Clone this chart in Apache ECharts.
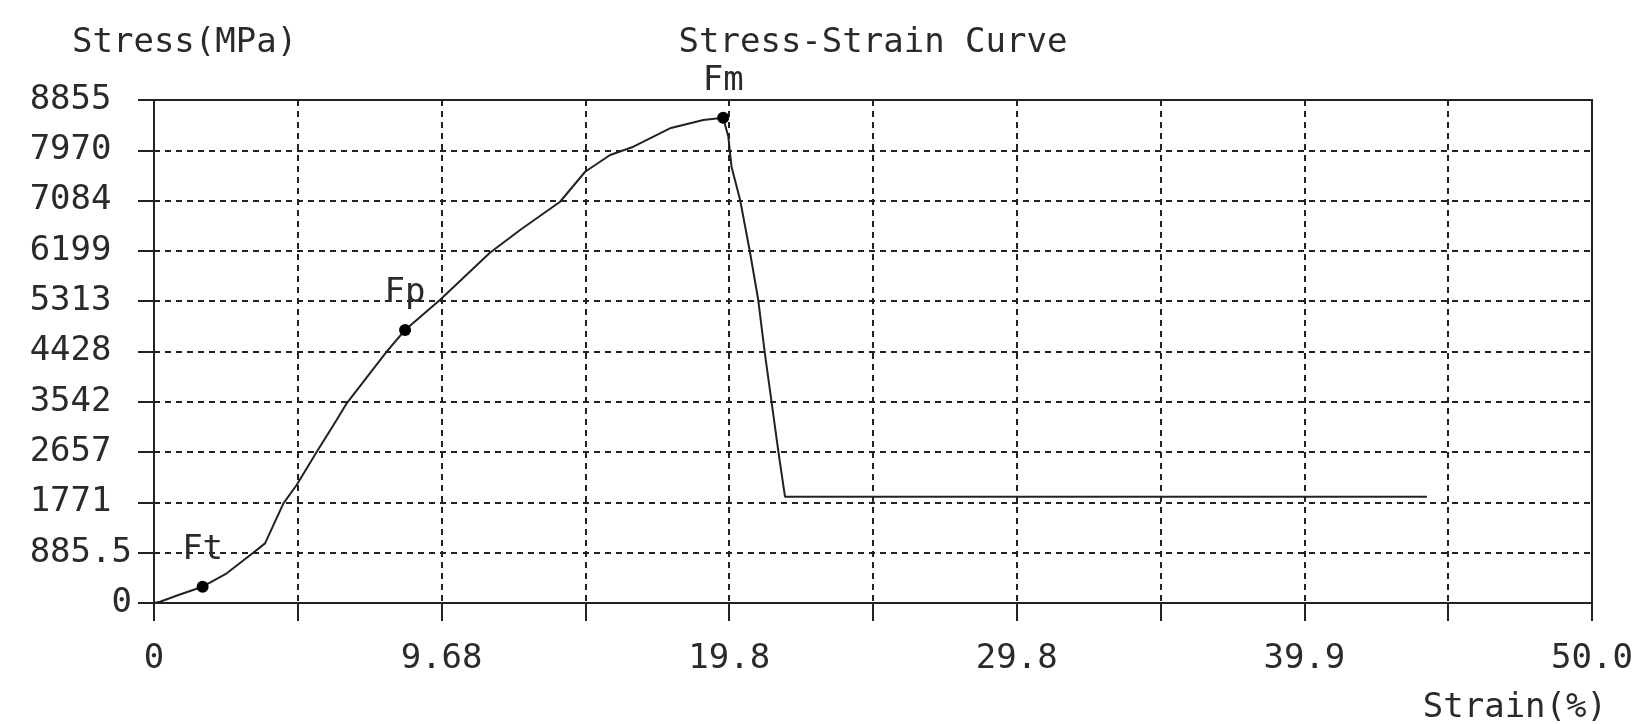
<!DOCTYPE html>
<html>
<head>
<meta charset="utf-8">
<script src="https://cdn.jsdelivr.net/npm/echarts@6/dist/echarts.min.js"></script>
<style>html,body{margin:0;padding:0;background:#fff}#c{width:1640px;height:724px}</style>
</head>
<body>
<div id="c"></div>
<script>
// Strain (axis units: ticks every 5, labelled every 10) and stress (MPa)
const strain = [0, 0.21, 0.9, 1.69, 2.53, 3.45, 3.86, 4.5, 4.96, 5.66, 6.35, 6.7, 8.09, 8.73, 9.94, 11.68, 12.73, 14.12, 14.99, 15.86, 16.67, 17.94, 19.1, 19.79, 19.97, 20.08, 20.38, 20.72, 21.01, 21.24, 21.48, 21.71, 21.94, 44.26];
const stress = [0, 23, 150, 287, 523, 885, 1050, 1755, 2077, 2664, 3222, 3516, 4424, 4806, 5334, 6167, 6566, 7064, 7592, 7886, 8033, 8356, 8502, 8543, 8209, 7681, 7094, 6184, 5334, 4396, 3516, 2664, 1871, 1871];
const markNames = ['Ft', 'Fp', 'Fm'];
const markStrain = [1.69, 8.73, 19.79];
const markStress = [287, 4806, 8543];
const xTickLabels = ['0', '9.68', '19.8', '29.8', '39.9', '50.0'];
const yTickLabels = ['0', '885.5', '1771', '2657', '3542', '4428', '5313', '6199', '7084', '7970', '8855'];

const FONT = 'DejaVu Sans Mono';
const TXT = '#2a2a2a';
const chart = echarts.init(document.getElementById('c'), null, {renderer: 'canvas'});
const lineData = strain.map((x, i) => [x, stress[i]]);
const markData = markStrain.map((x, i) => ({value: [x, markStress[i]], name: markNames[i]}));
const baseText = {fontFamily: FONT, fontSize: 34, fontWeight: 'normal', color: TXT};

chart.setOption({
  animation: false,
  backgroundColor: '#fff',
  title: [
    {text: 'Stress-Strain Curve', left: 873, top: 26, textAlign: 'center', padding: 0, textStyle: baseText},
    {text: 'Stress(MPa)', left: 72, top: 26, padding: 0, textStyle: baseText},
    {text: 'Strain(%)', right: 33, top: 691, padding: 0, textStyle: baseText}
  ],
  grid: {left: 154, right: 48, top: 100, bottom: 121, show: true, borderColor: '#222', borderWidth: 2, backgroundColor: 'transparent'},
  xAxis: {
    type: 'value', min: 0, max: 50, interval: 5,
    axisLine: {show: true, onZero: false, lineStyle: {color: '#222', width: 2}},
    axisTick: {show: true, inside: false, length: 18, lineStyle: {color: '#222', width: 2}},
    axisLabel: {
      margin: 39, fontFamily: FONT, fontSize: 34, color: TXT, showMinLabel: true, showMaxLabel: true,
      formatter: v => (Math.round(v) % 10 === 0 ? xTickLabels[Math.round(v / 10)] : '')
    },
    splitLine: {show: true, lineStyle: {color: '#222', width: 2, type: [6, 5]}}
  },
  yAxis: {
    type: 'value', min: 0, max: 8855, interval: 885.5,
    axisLine: {show: true, onZero: false, lineStyle: {color: '#222', width: 2}},
    axisTick: {show: true, inside: false, length: 16, lineStyle: {color: '#222', width: 2}},
    axisLabel: {
      margin: 22, fontFamily: FONT, fontSize: 34, color: TXT, showMinLabel: true, showMaxLabel: true,
      formatter: v => {
        const s = yTickLabels[Math.round(v / 885.5)];
        return s.length === 4 ? s + ' ' : s;
      }
    },
    splitLine: {show: true, lineStyle: {color: '#222', width: 2, type: [6, 5]}}
  },
  series: [
    {
      type: 'line', data: lineData, showSymbol: false, symbol: 'none', smooth: false,
      lineStyle: {color: '#222', width: 2}, z: 3
    },
    {
      type: 'scatter', data: markData, symbol: 'circle', symbolSize: 12,
      itemStyle: {color: '#000', opacity: 1}, z: 4,
      label: {show: true, position: 'top', distance: 14, formatter: p => p.name,
        fontFamily: FONT, fontSize: 34, color: TXT, opacity: 1}
    }
  ]
});
</script>
</body>
</html>
